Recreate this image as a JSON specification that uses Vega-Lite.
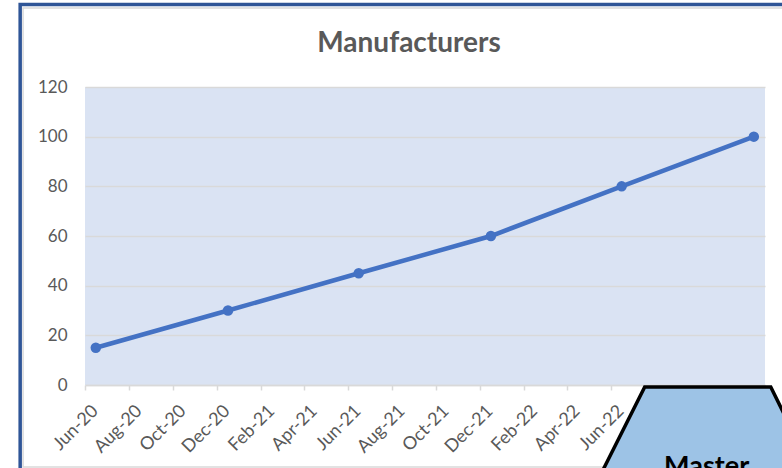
{
  "$schema": "https://vega.github.io/schema/vega-lite/v6.json",
  "autosize": {"type": "none"},
  "width": 680,
  "height": 298,
  "padding": {"left": 85, "top": 87, "right": 17, "bottom": 83},
  "background": "white",
  "config": {
    "view": {"fill": "#DAE3F3", "stroke": null},
    "font": "Lato"
  },
  "title": {
    "text": "Manufacturers",
    "font": "Lato",
    "fontSize": 28,
    "fontWeight": "bold",
    "color": "#595959",
    "anchor": "middle",
    "baseline": "alphabetic",
    "dx": -16,
    "offset": 0,
    "dy": 77
  },
  "datasets": {
    "series": [
      {"month": "2020-06-01", "value": 15},
      {"month": "2020-12-01", "value": 30},
      {"month": "2021-06-01", "value": 45},
      {"month": "2021-12-01", "value": 60},
      {"month": "2022-06-01", "value": 80},
      {"month": "2022-12-01", "value": 100}
    ],
    "frame": [
      {"x1": "2020-03-03", "x2": "2023-03-31", "y1": 153.2, "y2": -50, "kind": "blue"},
      {"x1": "2020-03-07", "x2": "2023-03-31", "y1": 151.8, "y2": -33.0, "kind": "gray"}
    ],
    "shape": [
      {"x": "2022-05-14", "top": -38.3, "bottom": -38.3},
      {"x": "2022-07-18", "top": -0.8, "bottom": -38.3},
      {"x": "2023-01-09", "top": -0.8, "bottom": -38.3},
      {"x": "2023-03-14", "top": -38.3, "bottom": -38.3}
    ],
    "label": [
      {"x": "2022-10-12", "y": -36.2, "text": "Master"}
    ]
  },
  "encoding": {},
  "layer": [
    {
      "data": {"name": "series"},
      "mark": {"type": "line", "color": "#4472C4", "strokeWidth": 4.5, "clip": false,
               "point": {"filled": true, "size": 110, "color": "#4472C4"}},
      "encoding": {
        "x": {
          "field": "month", "type": "temporal", "timeUnit": "yearmonth", "bandPosition": 0.5,
          "scale": {"domain": [{"year": 2020, "month": 6, "date": 1}, {"year": 2023, "month": 1, "date": 1}], "nice": false},
          "axis": {
            "title": null,
            "format": "%b-%y",
            "values": [
              {"year": 2020, "month": 6, "date": 1}, {"year": 2020, "month": 8, "date": 1},
              {"year": 2020, "month": 10, "date": 1}, {"year": 2020, "month": 12, "date": 1},
              {"year": 2021, "month": 2, "date": 1}, {"year": 2021, "month": 4, "date": 1},
              {"year": 2021, "month": 6, "date": 1}, {"year": 2021, "month": 8, "date": 1},
              {"year": 2021, "month": 10, "date": 1}, {"year": 2021, "month": 12, "date": 1},
              {"year": 2022, "month": 2, "date": 1}, {"year": 2022, "month": 4, "date": 1},
              {"year": 2022, "month": 6, "date": 1}, {"year": 2022, "month": 8, "date": 1},
              {"year": 2022, "month": 10, "date": 1}, {"year": 2022, "month": 12, "date": 1}
            ],
            "labelAngle": -45,
            "labelAlign": "right",
            "labelBaseline": "middle",
            "labelFontSize": 18,
            "labelColor": "#595959",
            "labelPadding": 18,
            "labelOffset": 10,
            "labelOverlap": false,
            "labelFlush": false,
            "domainColor": "#D9D9D9",
            "domainWidth": 1.5,
            "tickColor": "#D9D9D9",
            "tickSize": 5,
            "tickWidth": 1.5,
            "grid": false,
            "zindex": 0
          }
        },
        "y": {
          "field": "value", "type": "quantitative",
          "scale": {"domain": [0, 120], "nice": false},
          "axis": {
            "title": null,
            "values": [0, 20, 40, 60, 80, 100, 120],
            "ticks": false,
            "domain": false,
            "labelFontSize": 17,
            "labelColor": "#595959",
            "labelPadding": 18,
            "gridColor": "#D9D9D9",
            "gridWidth": 1.5,
            "zindex": 0
          }
        }
      }
    },
    {
      "data": {"name": "frame"},
      "mark": {"type": "rect", "fill": null, "clip": false},
      "encoding": {
        "x": {"field": "x1", "type": "temporal"},
        "x2": {"field": "x2"},
        "y": {"field": "y1", "type": "quantitative"},
        "y2": {"field": "y2"},
        "stroke": {"field": "kind", "type": "nominal", "scale": {"domain": ["blue", "gray"], "range": ["#2F5597", "#D9D9D9"]}, "legend": null},
        "strokeWidth": {"field": "kind", "type": "nominal", "scale": {"domain": ["blue", "gray"], "range": [3.5, 1.5]}, "legend": null}
      }
    },
    {
      "data": {"name": "shape"},
      "mark": {"type": "area", "fill": "#9DC3E6", "stroke": "black", "strokeWidth": 3.5, "clip": false, "orient": "vertical"},
      "encoding": {
        "x": {"field": "x", "type": "temporal"},
        "y": {"field": "top", "type": "quantitative"},
        "y2": {"field": "bottom"}
      }
    },
    {
      "data": {"name": "label"},
      "mark": {"type": "text", "font": "Lato", "fontSize": 27, "fontWeight": "bold", "color": "black", "align": "center", "baseline": "alphabetic", "clip": false},
      "encoding": {
        "x": {"field": "x", "type": "temporal"},
        "y": {"field": "y", "type": "quantitative"},
        "text": {"field": "text"}
      }
    }
  ]
}
